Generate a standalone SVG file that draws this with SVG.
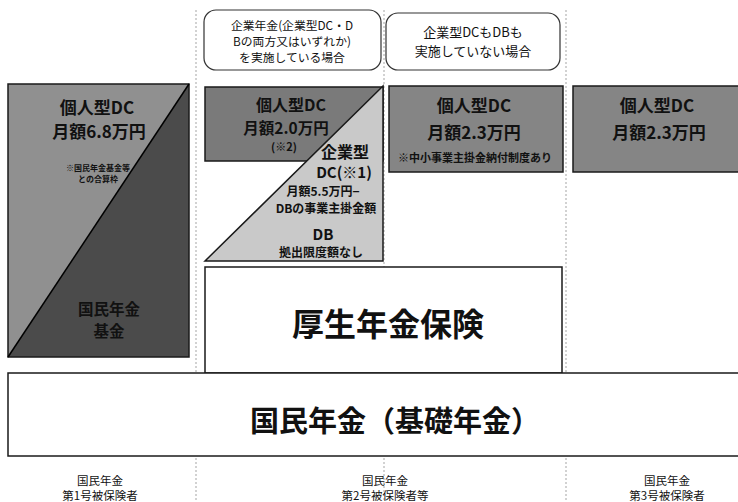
<svg xmlns="http://www.w3.org/2000/svg" width="738" height="502" viewBox="0 0 738 502">
<style>
text{font-family:"Noto Sans CJK JP","Noto Sans",sans-serif;font-weight:bold;fill:#111;text-anchor:middle}
.sep{stroke:#b5b5b5;stroke-width:1.2;stroke-dasharray:2 2;fill:none}
.box{stroke:#1a1a1a;stroke-width:1.5}
.note{fill:#fff;stroke:#333;stroke-width:1.2}
.n{font-weight:normal}
</style>
<rect width="738" height="502" fill="#fff"/>
<g id="separators">
<line class="sep" x1="196" y1="10" x2="196" y2="502"/>
<line class="sep" x1="384" y1="10" x2="384" y2="502"/>
<line class="sep" x1="566" y1="10" x2="566" y2="502"/>
</g>
<g id="note-kigyo">
<rect class="note" x="204" y="10" width="177" height="60" rx="12"/>
<text class="n" x="292" y="30" font-size="11.8">企業年金(企業型DC・D</text>
<text class="n" x="292" y="46" font-size="11.8">Bの両方又はいずれか)</text>
<text class="n" x="292" y="62" font-size="11.8">を実施している場合</text>
</g>
<g id="note-none">
<rect class="note" x="386" y="13" width="174" height="57" rx="12"/>
<text class="n" x="473" y="37" font-size="13">企業型DCもDBも</text>
<text class="n" x="473" y="56" font-size="13">実施していない場合</text>
</g>
<g id="col1-box">
<polygon points="8,84 189,84 8,357" fill="#909090"/>
<polygon points="189,84 189,357 8,357" fill="#4b4b4b"/>
<rect class="box" x="8" y="84" width="181" height="273" fill="none"/>
<line x1="8" y1="357" x2="189" y2="84" stroke="#000" stroke-width="1.5"/>
<text x="97" y="114" font-size="17">個人型DC</text>
<text x="99" y="138" font-size="17">月額6.8万円</text>
<text x="98" y="171" font-size="8">※国民年金基金等</text>
<text x="98" y="182" font-size="8">との合算枠</text>
<text x="109" y="315" font-size="15.5">国民年金</text>
<text x="109" y="337" font-size="15.5">基金</text>
</g>
<g id="col2-ideco">
<rect class="box" x="205" y="87" width="178" height="74" fill="#7a7a7a"/>
<text x="291" y="111" font-size="16">個人型DC</text>
<text x="286" y="134" font-size="15.5">月額2.0万円</text>
<text x="284" y="151" font-size="11">(※2)</text>
</g>
<g id="col2-corporate">
<polygon class="box" points="205,261 383,86 383,261" fill="#c9c9c9"/>
<text x="345" y="158" font-size="16">企業型</text>
<text x="344" y="178" font-size="15">DC(※1)</text>
<text x="323" y="196" font-size="12">月額5.5万円−</text>
<text x="326" y="213" font-size="12">DBの事業主掛金額</text>
<text x="323" y="240" font-size="15">DB</text>
<text x="321" y="257" font-size="12">拠出限度額なし</text>
</g>
<g id="col3-ideco">
<rect class="box" x="389" y="86" width="174" height="86" fill="#858585"/>
<text x="474" y="112" font-size="17">個人型DC</text>
<text x="474" y="139" font-size="17">月額2.3万円</text>
<text x="475" y="162" font-size="11">※中小事業主掛金納付制度あり</text>
</g>
<g id="col4-ideco">
<rect class="box" x="573" y="86" width="170" height="86" fill="#858585"/>
<text x="657" y="112" font-size="17">個人型DC</text>
<text x="659" y="139" font-size="17">月額2.3万円</text>
</g>
<g id="kosei">
<rect class="box" x="205" y="267" width="357" height="106" fill="#fff"/>
<text x="388" y="336" font-size="32">厚生年金保険</text>
</g>
<g id="kokumin">
<rect class="box" x="8" y="373" width="736" height="83" fill="#fff"/>
<text x="395" y="432" font-size="29">国民年金（基礎年金）</text>
</g>
<g id="labels">
<text class="n" x="100" y="485" font-size="11.5">国民年金</text>
<text class="n" x="100" y="500" font-size="11.5">第1号被保険者</text>
<text class="n" x="385" y="485" font-size="11.5">国民年金</text>
<text class="n" x="385" y="500" font-size="11.5">第2号被保険者等</text>
<text class="n" x="667" y="485" font-size="11.5">国民年金</text>
<text class="n" x="667" y="500" font-size="11.5">第3号被保険者</text>
</g>
</svg>
